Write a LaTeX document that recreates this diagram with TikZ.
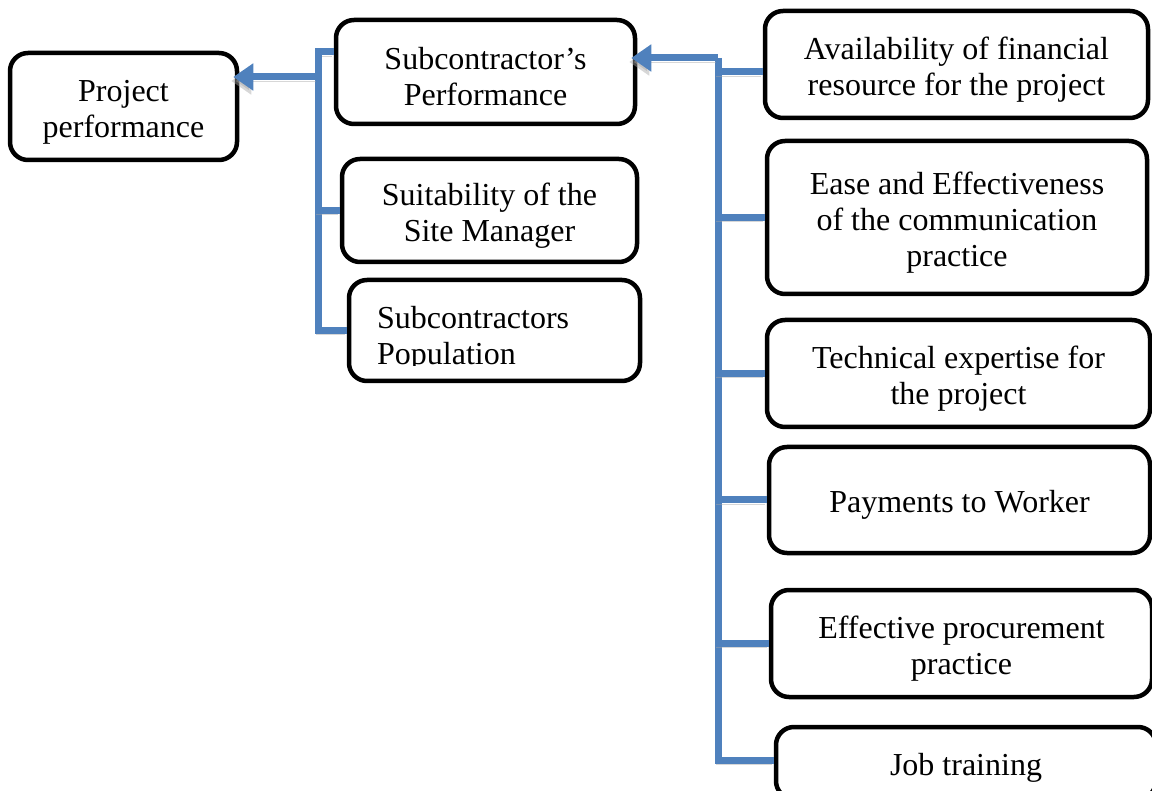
\documentclass[tikz,border=0pt]{standalone}
\usepackage{fontspec}
\setmainfont{Liberation Serif}
\usetikzlibrary{arrows.meta}
\definecolor{busblue}{RGB}{79,129,189}
\tikzset{
  boxtext/.style={inner sep=0pt, font=\fontsize{32}{36}\selectfont,
    execute at begin node={\rule{0pt}{32pt}}},
  box/.style 2 args={boxtext, draw, line width=4.5pt, rounded corners=18pt, align=flush center,
    minimum width=#1, text width=#1-20, minimum height=#2},
  bus/.style={draw=busblue, line width=7pt,
    preaction={draw=black!35, opacity=0.45, transform canvas={shift={(-2pt,-4pt)}}}},
  busarrow/.style={bus, -{Triangle[length=20pt,width=26pt]}, shorten >=-6pt},
}
\begin{document}
\begin{tikzpicture}[x=1pt,y=-1pt]
\useasboundingbox (0,0) rectangle (1152,791);
\clip (0,0) rectangle (1152,791);
\node[box={227}{107}] (proj) at (123.5,106.5) {Project\\performance};
\node[box={299}{104}] (subperf) at (485.5,72) {Subcontractor’s\\Performance};
\node[box={295}{103}] (site) at (489.5,210.5) {Suitability of the\\Site Manager};
\node[box={291}{101}] (popul) at (494.5,330.5) {};
\begin{scope}
\clip (popul.north west) rectangle ([yshift=18pt]popul.south east);
\node[boxtext, text width=250, align=flush left, anchor=base west] (popultxt) at (377,329) {Subcontractors\\Population};
\end{scope}
\node[box={383}{107}] (fin) at (956.5,64.5) {Availability of financial\\resource for the project};
\node[box={380}{153}] (comm) at (957,217.5) {Ease and Effectiveness\\of the communication\\practice};
\node[box={383}{107}] (tech) at (958.5,373.5) {Technical expertise for\\the project};
\node[box={381}{106}] (pay) at (959.5,500) {Payments to Worker};
\node[box={381}{107}] (proc) at (961.5,643.5) {Effective procurement\\practice};
\node[box={380}{72}] (job) at (966,763) {Job training};
\coordinate (lb) at (318,77);
\coordinate (rb) at (718,58);
\draw[bus] ([yshift=20pt]subperf.west) -| (lb) |- (popul.west);
\draw[bus] (lb |- site.west) -- (site.west);
\draw[busarrow] (lb) -- (proj.east |- lb);
\draw[bus] (rb) |- ([yshift=3pt]job.west);
\draw[bus] (rb |- 0,72) -- (fin.west |- 0,72);
\foreach \n in {comm,tech,pay,proc}
  \draw[bus] (rb |- \n.west) -- (\n.west);
\draw[busarrow] (rb) -- (subperf.east |- rb);
\end{tikzpicture}
\end{document}
